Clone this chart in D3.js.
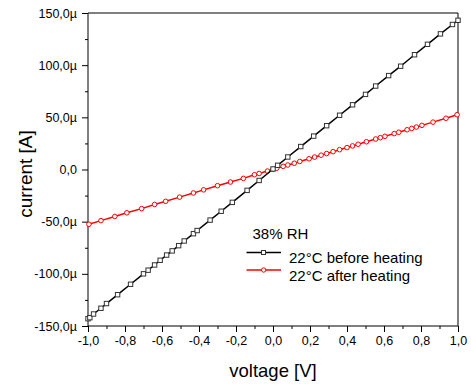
<!DOCTYPE html>
<html>
<head>
<meta charset="utf-8">
<script src="https://cdn.jsdelivr.net/npm/d3@7"></script>
<style>
  body { margin: 0; background: #fff; }
  svg { display: block; }
  .tick text { font-family: "Liberation Sans Narrow", "Liberation Sans", Arial, sans-serif; font-size: 12.5px; fill: #000; }
  .lbl { font-family: "Liberation Sans", Arial, sans-serif; fill: #000; }
</style>
</head>
<body>
<svg id="chart" width="471" height="386"></svg>
<script>
// voltage [V] and current [µA]
var beforeV = [-1.0, -0.99, -0.97, -0.93, -0.90, -0.84, -0.77, -0.70, -0.675, -0.64, -0.61, -0.575,
  -0.545, -0.51, -0.48, -0.43, -0.41, -0.34, -0.28, -0.22, -0.14, -0.075, 0.0, 0.025, 0.08,
  0.15, 0.22, 0.29, 0.36, 0.43, 0.50, 0.555, 0.625, 0.69, 0.765, 0.835, 0.905, 0.97, 1.0];
var beforeI = [-143, -142, -138.5, -133, -128.5, -120, -110, -100, -96.5, -91.5, -87, -82,
  -78, -73, -68.5, -61.5, -58.5, -48.5, -40, -31.5, -20, -10.5, 0.5, 4, 12,
  22, 32, 42, 52, 62, 72, 80, 90, 99, 110, 120, 130, 139, 143];

var afterV = [-0.995, -0.93, -0.855, -0.79, -0.71, -0.64, -0.58, -0.505, -0.43, -0.375, -0.30,
  -0.23, -0.16, -0.10, -0.075, -0.03, 0.0, 0.02, 0.055, 0.08, 0.115, 0.145, 0.195, 0.225,
  0.26, 0.29, 0.325, 0.36, 0.40, 0.43, 0.46, 0.505, 0.555, 0.58, 0.605, 0.655, 0.68, 0.725,
  0.75, 0.775, 0.805, 0.865, 0.935, 0.995];
var afterI = [-52.5, -49, -45, -41.5, -37.5, -33.5, -30.5, -26.5, -22.5, -19.5, -15.5,
  -12, -8.5, -5, -3.8, -1.5, 0.2, 1.2, 3, 4.3, 6, 7.7, 10.3, 11.9,
  13.7, 15.3, 17.1, 19, 21, 22.6, 24.2, 26.6, 29.2, 30.5, 31.8, 34.4, 35.7, 38.1,
  39.4, 40.7, 42.3, 45.4, 49.1, 52.5];

var xTicks = [-1.0, -0.8, -0.6, -0.4, -0.2, 0.0, 0.2, 0.4, 0.6, 0.8, 1.0];
var yTicks = [-150, -100, -50, 0, 50, 100, 150];
var legendTitle = "38% RH";
var seriesNames = ["22°C before heating", "22°C after heating"];

var svg = d3.select("#chart");
var plotL = 88, plotR = 458, plotT = 13, plotB = 326;

var x = d3.scaleLinear().domain([-1, 1]).range([plotL, plotR]);
var y = d3.scaleLinear().domain([-150, 150]).range([plotB, plotT]);

var comma = function(s) { return s.replace(".", ",").replace("−", "-"); };
var fmtX = function(d) { return comma(d3.format(".1f")(d)); };
var fmtY = function(d) { return d === 0 ? "0,0" : comma(d3.format(".1f")(d)) + "µ"; };

// minor ticks
svg.append("g")
    .attr("transform", "translate(0," + plotB + ")")
    .call(d3.axisBottom(x).tickValues(d3.range(-0.9, 1, 0.2)).tickSize(3).tickFormat(""))
    .call(function(g) { g.select(".domain").remove(); });
svg.append("g")
    .attr("transform", "translate(" + plotL + ",0)")
    .call(d3.axisLeft(y).tickValues(d3.range(-125, 150, 50)).tickSize(3).tickFormat(""))
    .call(function(g) { g.select(".domain").remove(); });

// major axes
svg.append("g")
    .attr("transform", "translate(0," + plotB + ")")
    .call(d3.axisBottom(x).tickValues(xTicks).tickSize(6).tickPadding(4).tickFormat(fmtX))
    .call(function(g) { g.select(".domain").attr("d", "M" + plotL + ",0H" + plotR); });
svg.append("g")
    .attr("transform", "translate(" + plotL + ",0)")
    .call(d3.axisLeft(y).tickValues(yTicks).tickSize(6).tickPadding(5).tickFormat(fmtY))
    .call(function(g) { g.select(".domain").attr("d", "M0," + plotT + "V" + plotB); });

// top and right frame
svg.append("path")
    .attr("d", "M" + plotL + "," + plotT + "H" + plotR + "V" + plotB)
    .attr("fill", "none").attr("stroke", "#000");

svg.selectAll(".tick line").attr("stroke", "#000");

// series
var before = beforeV.map(function(v, i) { return [v, beforeI[i]]; });
var after = afterV.map(function(v, i) { return [v, afterI[i]]; });
var line = d3.line().x(function(d) { return x(d[0]); }).y(function(d) { return y(d[1]); });

svg.append("path").datum(after).attr("d", line)
    .attr("fill", "none").attr("stroke", "#ff0000").attr("stroke-width", 1.5);
svg.append("g").selectAll("circle").data(after).join("circle")
    .attr("cx", function(d) { return x(d[0]); })
    .attr("cy", function(d) { return y(d[1]); })
    .attr("r", 2.3).attr("fill", "#fff").attr("stroke", "#ff0000").attr("stroke-width", 1);

svg.append("path").datum(before).attr("d", line)
    .attr("fill", "none").attr("stroke", "#000").attr("stroke-width", 1.5);
svg.append("g").selectAll("rect").data(before).join("rect")
    .attr("x", function(d) { return x(d[0]) - 2.2; })
    .attr("y", function(d) { return y(d[1]) - 2.2; })
    .attr("width", 4.4).attr("height", 4.4)
    .attr("fill", "#fff").attr("stroke", "#333").attr("stroke-width", 1);

// axis titles
svg.append("text").attr("class", "lbl")
    .attr("x", (plotL + plotR) / 2).attr("y", 377)
    .attr("text-anchor", "middle").attr("font-size", 18.5)
    .text("voltage [V]");
svg.append("text").attr("class", "lbl")
    .attr("transform", "translate(32," + 174 + ") rotate(-90)")
    .attr("text-anchor", "middle").attr("font-size", 19)
    .text("current [A]");

// legend
var legend = svg.append("g");
legend.append("text").attr("class", "lbl")
    .attr("x", 252.5).attr("y", 239).attr("font-size", 15).text(legendTitle);

var colors = ["#000", "#ff0000"];
var rows = [252.5, 270];
seriesNames.forEach(function(name, i) {
  var ly = rows[i];
  legend.append("line")
      .attr("x1", 246.5).attr("x2", 281).attr("y1", ly).attr("y2", ly)
      .attr("stroke", colors[i]).attr("stroke-width", 1.5);
  if (i === 0) {
    legend.append("rect").attr("x", 261.5).attr("y", ly - 2).attr("width", 4).attr("height", 4)
        .attr("fill", "#fff").attr("stroke", "#333");
  } else {
    legend.append("circle").attr("cx", 263.7).attr("cy", ly).attr("r", 2.2)
        .attr("fill", "#fff").attr("stroke", colors[i]);
  }
  legend.append("text").attr("class", "lbl")
      .attr("x", 289).attr("y", ly + 10.5).attr("font-size", 15).text(name);
});
</script>
</body>
</html>
